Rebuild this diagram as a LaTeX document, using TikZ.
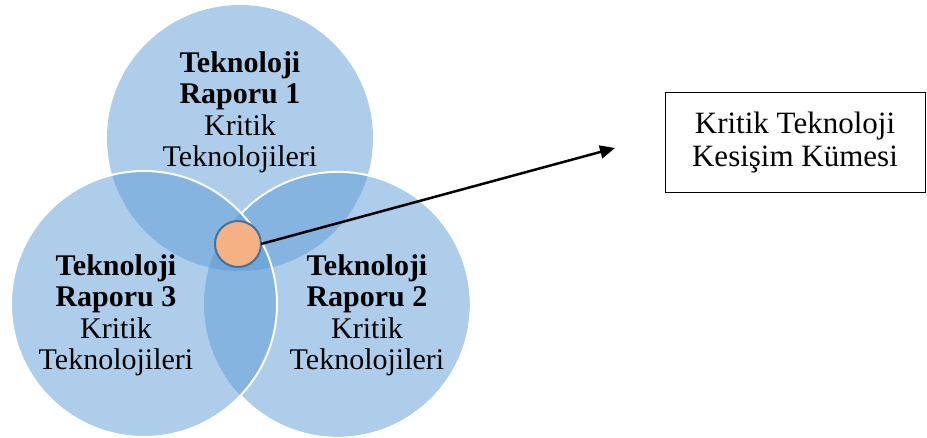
\documentclass[tikz,border=0pt]{standalone}
\usepackage{fontspec}
\setmainfont{Liberation Serif}
\usetikzlibrary{arrows.meta}
\definecolor{vennblue}{RGB}{91,155,213}
\definecolor{dotfill}{RGB}{244,177,131}
\definecolor{dotline}{RGB}{65,113,156}
\begin{document}
\begin{tikzpicture}[x=1pt,y=1pt,
  venn/.style={circle, inner sep=0pt, outer sep=0pt, minimum size=266pt, fill=vennblue, fill opacity=0.5},
  rim/.style={draw=white, line width=2pt},
  vlabel/.style={align=center, inner sep=0pt, font=\fontsize{30}{31.5}\selectfont, text=black},
  dot/.style={circle, inner sep=0pt, outer sep=0pt, minimum size=46pt, fill=dotfill, draw=dotline, line width=2pt},
  resultbox/.style={draw=black, line width=1pt, minimum width=260pt, minimum height=100pt, align=center, font=\fontsize{31}{33}\selectfont},
  pointer/.style={line width=2.5pt, -{Triangle[length=15pt,width=13pt]}}]
\useasboundingbox (0,0) rectangle (927,438);
\node[venn] (c1) at (240,300) {};
\node[venn] (c2) at (337,134) {};
\node[venn] (c3) at (144,134) {};
\draw[rim] (c3.center) circle[radius=133];
\draw[rim] (c2.-136.5) arc[start angle=-136.5, end angle=136.5, radius=133];
\node[vlabel] (t1) at (240,325.5) {\textbf{Teknoloji}\\\textbf{Raporu 1}\\Kritik\\Teknolojileri};
\node[vlabel] (t3) at (116,122.5) {\textbf{Teknoloji}\\\textbf{Raporu 3}\\Kritik\\Teknolojileri};
\node[vlabel] (t2) at (367,122.5) {\textbf{Teknoloji}\\\textbf{Raporu 2}\\Kritik\\Teknolojileri};
\node[dot] (core) at (238,194) {};
\node[resultbox] (box) at (795,295) {Kritik Teknoloji\\Kesişim Kümesi};
\coordinate (tip) at (615,290);
\draw[pointer] (core.east) -- (tip);
\end{tikzpicture}
\end{document}
